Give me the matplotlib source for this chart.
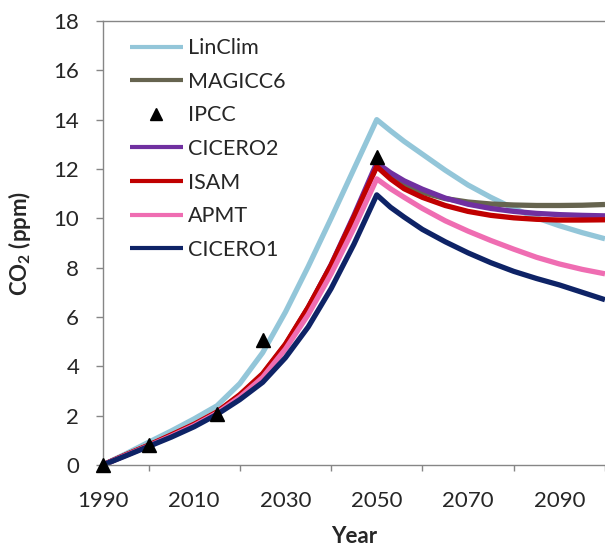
import matplotlib
matplotlib.use("Agg")
import matplotlib.pyplot as plt
from matplotlib.ticker import MultipleLocator

plt.rcParams["font.family"] = ["Lato", "DejaVu Sans"]
plt.rcParams["mathtext.fontset"] = "custom"
plt.rcParams["mathtext.rm"] = "Lato"
plt.rcParams["mathtext.bf"] = "Lato:bold"

AXIS_GRAY = "#868686"
TEXT_COLOR = "#262626"

# model years, denser just after the 2050 peak
YEARS = [1990, 1995, 2000, 2005, 2010, 2015, 2020, 2025, 2030, 2035, 2040, 2045,
         2050, 2053, 2056, 2060, 2065, 2070, 2075, 2080, 2085, 2090, 2095, 2100]

# CO2 concentration change (ppm) per model
LINCLIM = [0.0, 0.45, 0.92, 1.38, 1.87, 2.4, 3.3, 4.55, 6.2, 8.05, 10.0, 12.0,
           14.0, 13.55, 13.12, 12.6, 11.95, 11.35, 10.85, 10.4, 10.02, 9.7, 9.42, 9.17]
MAGICC6 = [0.0, 0.4, 0.79, 1.2, 1.63, 2.13, 2.82, 3.68, 4.88, 6.38, 8.08, 10.05,
           12.15, 11.7, 11.35, 11.05, 10.8, 10.66, 10.58, 10.54, 10.52, 10.52, 10.53, 10.56]
CICERO2 = [0.0, 0.4, 0.78, 1.18, 1.6, 2.1, 2.8, 3.65, 4.85, 6.38, 8.12, 10.12,
           12.25, 11.85, 11.52, 11.18, 10.82, 10.57, 10.4, 10.28, 10.2, 10.15, 10.12, 10.1]
ISAM = [0.0, 0.41, 0.8, 1.22, 1.65, 2.15, 2.85, 3.7, 4.9, 6.4, 8.1, 10.05,
        12.1, 11.6, 11.2, 10.85, 10.52, 10.28, 10.12, 10.02, 9.96, 9.93, 9.93, 9.94]
APMT = [0.0, 0.39, 0.77, 1.17, 1.6, 2.1, 2.75, 3.55, 4.7, 6.1, 7.75, 9.6,
        11.6, 11.2, 10.85, 10.4, 9.9, 9.48, 9.1, 8.75, 8.42, 8.15, 7.93, 7.75]
CICERO1 = [0.0, 0.37, 0.75, 1.13, 1.55, 2.05, 2.65, 3.35, 4.35, 5.6, 7.15, 8.95,
           10.95, 10.45, 10.05, 9.55, 9.05, 8.6, 8.2, 7.85, 7.56, 7.3, 7.0, 6.7]

# IPCC reference points
IPCC_YEARS = [1990, 2000, 2015, 2025, 2050]
IPCC_CO2 = [0.0, 0.8, 2.05, 5.05, 12.5]

SERIES = [
    ("LinClim", LINCLIM, "#93C6D9"),
    ("MAGICC6", MAGICC6, "#66644F"),
    ("CICERO2", CICERO2, "#7030A0"),
    ("ISAM", ISAM, "#C00000"),
    ("APMT", APMT, "#EF6DB2"),
    ("CICERO1", CICERO1, "#0E2366"),
]

fig = plt.figure(figsize=(6.05, 5.48), dpi=100)
ax = fig.add_axes([0.170, 0.1515, 0.830, 0.8102])

handles = {}
for name, vals, color in SERIES:
    (h,) = ax.plot(YEARS, vals, color=color, lw=3.8, solid_joinstyle="round",
                   solid_capstyle="butt", label=name)
    handles[name] = h
(ipcc,) = ax.plot(IPCC_YEARS, IPCC_CO2, ls="none", marker="^", ms=10,
                  color="black", zorder=5, clip_on=False, label="IPCC")
handles["IPCC"] = ipcc

ax.set_xlim(1990, 2100)
ax.set_ylim(0, 18)
# labels every 20 years from 1990, tick marks halfway between them
ax.xaxis.set_major_locator(MultipleLocator(20, offset=10))
ax.xaxis.set_minor_locator(MultipleLocator(20))
ax.yaxis.set_major_locator(MultipleLocator(2))

for side in ("left", "bottom", "top"):
    ax.spines[side].set_color(AXIS_GRAY)
    ax.spines[side].set_linewidth(1.0)
ax.spines["right"].set_visible(False)

ax.tick_params(axis="x", which="major", length=0, pad=18.5, labelsize=16,
               labelcolor=TEXT_COLOR)
ax.tick_params(axis="x", which="minor", length=4, width=1.0, color=AXIS_GRAY,
               direction="out")
ax.tick_params(axis="y", which="major", length=5, width=1.0, color=AXIS_GRAY,
               direction="out", pad=12, labelsize=16, labelcolor=TEXT_COLOR)

ax.set_xlabel("Year", fontsize=16, fontweight="bold", color=TEXT_COLOR, labelpad=11)
ax.set_ylabel(r"CO$_\mathbf{2}$ (ppm)", fontsize=16, fontweight="bold",
              color=TEXT_COLOR, labelpad=15)

order = ["LinClim", "MAGICC6", "IPCC", "CICERO2", "ISAM", "APMT", "CICERO1"]
leg = ax.legend([handles[k] for k in order], order, loc="upper left",
                bbox_to_anchor=(0.054, 0.961), frameon=False, fontsize=15.5,
                handlelength=2.45, handletextpad=0.25, labelspacing=0.63,
                borderpad=0, borderaxespad=0, numpoints=1, labelcolor=TEXT_COLOR)
for line in leg.get_lines():
    if line.get_linestyle() != "None":
        line.set_linewidth(3.0)
    else:
        line.set_markersize(9)

fig.savefig("out.png", dpi=100)
